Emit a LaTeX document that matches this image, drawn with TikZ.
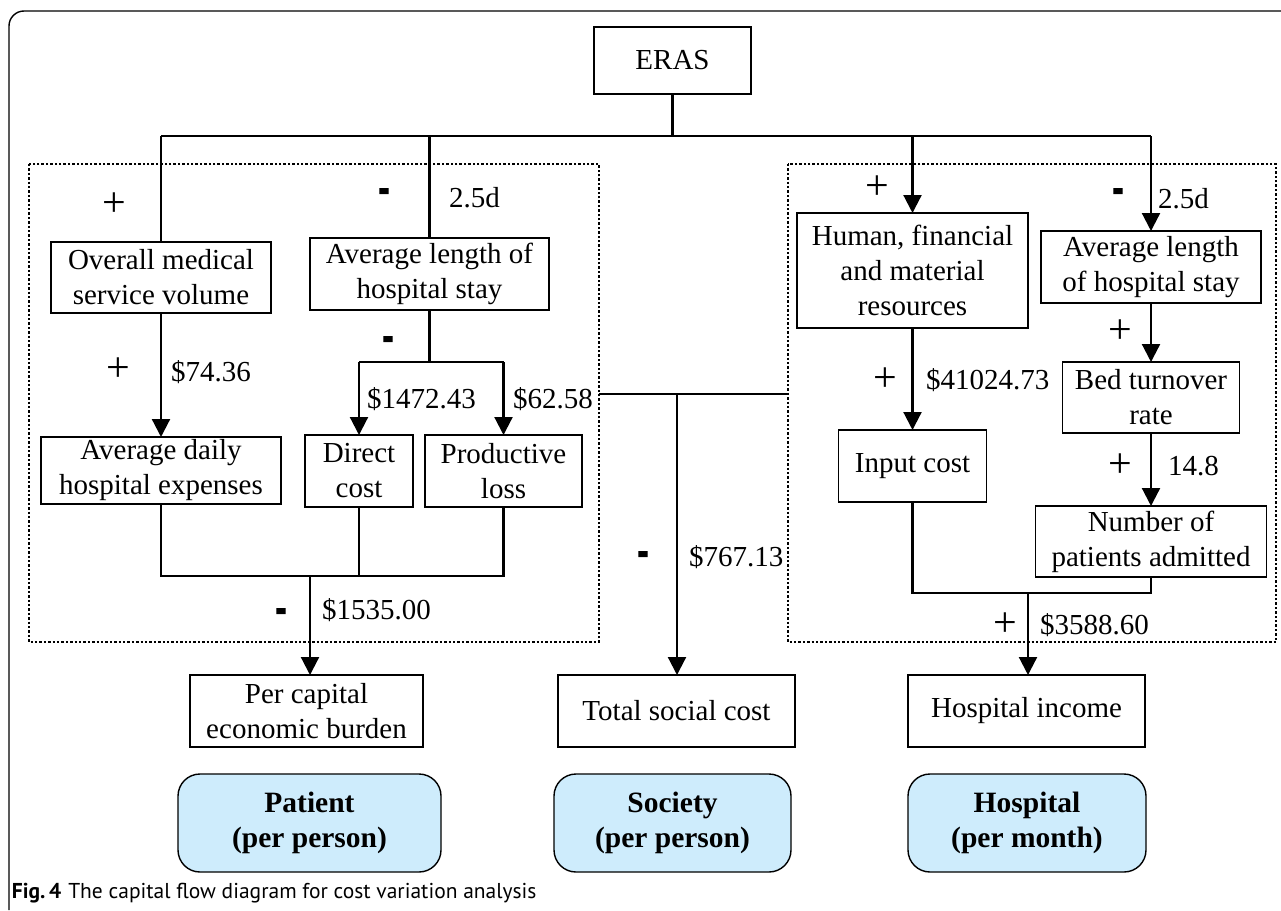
\documentclass[tikz,border=0pt]{standalone}
\usepackage{fontspec}
\usepackage{graphicx}
\setmainfont{Liberation Serif}
\newfontfamily\capfont{PT Sans}
\usetikzlibrary{arrows.meta}
\definecolor{boxblue}{RGB}{206,236,252}
\begin{document}
\begin{tikzpicture}[x=1pt,y=-1pt,
  every node/.style={inner sep=0pt,outer sep=0pt},
  box/.style={draw,line width=1.4pt,align=center,font=\fontsize{29}{35}\selectfont},
  role/.style={draw,line width=1.4pt,fill=boxblue,rounded corners=22pt,align=center,font=\fontsize{29.5}{35}\selectfont\bfseries},
  conn/.style={line width=2.2pt},
  arr/.style={conn,-{Triangle[width=18pt,length=18pt]}},
  sepbox/.style={draw,line width=2.8pt,dash pattern=on 2.4pt off 2pt},
  val/.style={anchor=west,font=\fontsize{29}{35}\selectfont},
  plus/.style={font=\fontsize{42}{42}\selectfont},
  minus/.style={font=\fontsize{36}{36}\selectfont\bfseries},
]
\useasboundingbox (0,0) rectangle (1281,910);
% outer frame
\draw[line width=1.4pt,rounded corners=15pt] (1281,11) -- (9,11) -- (9,910);

% dotted groups
\draw[sepbox] (29,164) rectangle (599,642);
\draw[sepbox] (788,164) rectangle (1276,642);

% boxes
\node[box,minimum width=157pt,minimum height=67pt] (eras) at (672.5,60.5) {ERAS};
\node[box,minimum width=220pt,minimum height=71pt] (overall) at (161,277.5) {Overall medical\\service volume};
\node[box,minimum width=239pt,minimum height=72pt] (avgl) at (429.5,274) {Average length of\\hospital stay};
\node[box,minimum width=240pt,minimum height=67pt] (adaily) at (161,470.5) {Average daily\\hospital expenses};
\node[box,minimum width=108pt,minimum height=72pt] (direct) at (359,471) {Direct\\cost};
\node[box,minimum width=157pt,minimum height=72pt] (prod) at (503.5,471) {Productive\\loss};
\node[box,minimum width=231pt,minimum height=115pt] (human) at (912.5,270.5) {Human, financial\\and material\\resources};
\node[box,minimum width=220pt,minimum height=72pt] (avgr) at (1151,267) {Average length\\of hospital stay};
\node[box,minimum width=177pt,minimum height=71pt] (bed) at (1151,397.5) {Bed turnover\\rate};
\node[box,minimum width=148pt,minimum height=72pt] (input) at (912.5,466) {Input cost};
\node[box,minimum width=231pt,minimum height=71pt] (number) at (1151,541.5) {Number of\\patients admitted};
\node[box,minimum width=233pt,minimum height=72pt] (percap) at (306.5,711) {Per capital\\economic burden};
\node[box,minimum width=237pt,minimum height=72pt] (total) at (676.5,711) {Total social cost};
\node[box,minimum width=237pt,minimum height=72pt] (hinc) at (1026.5,711) {Hospital income};

\node[role,minimum width=263pt,minimum height=98pt] (patient) at (309.5,823) {Patient\\(per person)};
\node[role,minimum width=237pt,minimum height=98pt] (society) at (672.5,823) {Society\\(per person)};
\node[role,minimum width=238pt,minimum height=98pt] (hospital) at (1027,823) {Hospital\\(per month)};

% top bus
\coordinate (bus) at (672.5,136);
\draw[conn] (eras.south) -- (bus);
\draw[conn] (overall.north |- bus) -- (avgr.north |- bus);
\draw[conn] (overall.north |- bus) -- (overall.north);
\draw[conn] (avgl.north |- bus) -- (avgl.north);
\draw[arr] (human.north |- bus) -- (human.north);
\draw[arr] (avgr.north |- bus) -- (avgr.north);

% patient side
\draw[arr] (overall.south) -- (adaily.north);
\coordinate (split) at (429.5,362);
\draw[conn] (avgl.south) -- (split);
\draw[conn] (direct.north |- split) -- (prod.north |- split);
\draw[arr] (direct.north |- split) -- (direct.north);
\draw[arr] (prod.north |- split) -- (prod.north);
\coordinate (mergeP) at (310,576);
\draw[conn] (adaily.south) -- (adaily.south |- mergeP) -- (prod.south |- mergeP) -- (prod.south);
\draw[conn] (direct.south) -- (direct.south |- mergeP);
\draw[arr] (mergeP) -- (mergeP |- percap.north);

% society
\coordinate (sL) at (599,394);
\coordinate (sR) at (788,394);
\coordinate (sM) at (677,394);
\draw[conn] (sL) -- (sR);
\draw[arr] (sM) -- (sM |- total.north);

% hospital side
\draw[arr] (human.south) -- (human.south |- input.north);
\draw[arr] (avgr.south) -- (bed.north);
\draw[arr] (bed.south) -- (number.north);
\coordinate (mergeH) at (1028,593);
\draw[conn] (input.south) -- (input.south |- mergeH) -- (number.south |- mergeH) -- (number.south);
\draw[arr] (mergeH) -- (mergeH |- hinc.north);

% signs and values
\node[plus] (p1) at (114,205) {+};
\node[minus] (m1) at (384,198) {\scalebox{1}[2]{-}};
\node[val] (v1) at (449,198) {2.5d};
\node[plus] (p2) at (118,370) {+};
\node[val] (v2) at (171,372) {\$74.36};
\node[minus] (m2) at (388,346) {\scalebox{1}[2]{-}};
\node[val] (v3) at (367,399) {\$1472.43};
\node[val] (v4) at (513,399) {\$62.58};
\node[minus] (m3) at (281,618) {\scalebox{1}[2]{-}};
\node[val] (v5) at (322,610) {\$1535.00};
\node[minus] (m4) at (643,561) {\scalebox{1}[2]{-}};
\node[val] (v6) at (689,557) {\$767.13};
\node[plus] (p3) at (877,188) {+};
\node[minus] (m5) at (1118,198) {\scalebox{1}[2]{-}};
\node[val] (v7) at (1158,199) {2.5d};
\node[plus] (p4) at (885,380) {+};
\node[val] (v8) at (926,380) {\$41024.73};
\node[plus] (p5) at (1120,332) {+};
\node[plus] (p6) at (1120,466) {+};
\node[val] (v9) at (1168,466) {14.8};
\node[plus] (p7) at (1005,625) {+};
\node[val] (v10) at (1040,625) {\$3588.60};

% caption
\node[anchor=west,font=\capfont\fontsize{21.5}{24}\selectfont] (cap) at (12,893) {\textbf{Fig.\,4}\hspace{7pt}The capital flow diagram for cost variation analysis};
\end{tikzpicture}
\end{document}
